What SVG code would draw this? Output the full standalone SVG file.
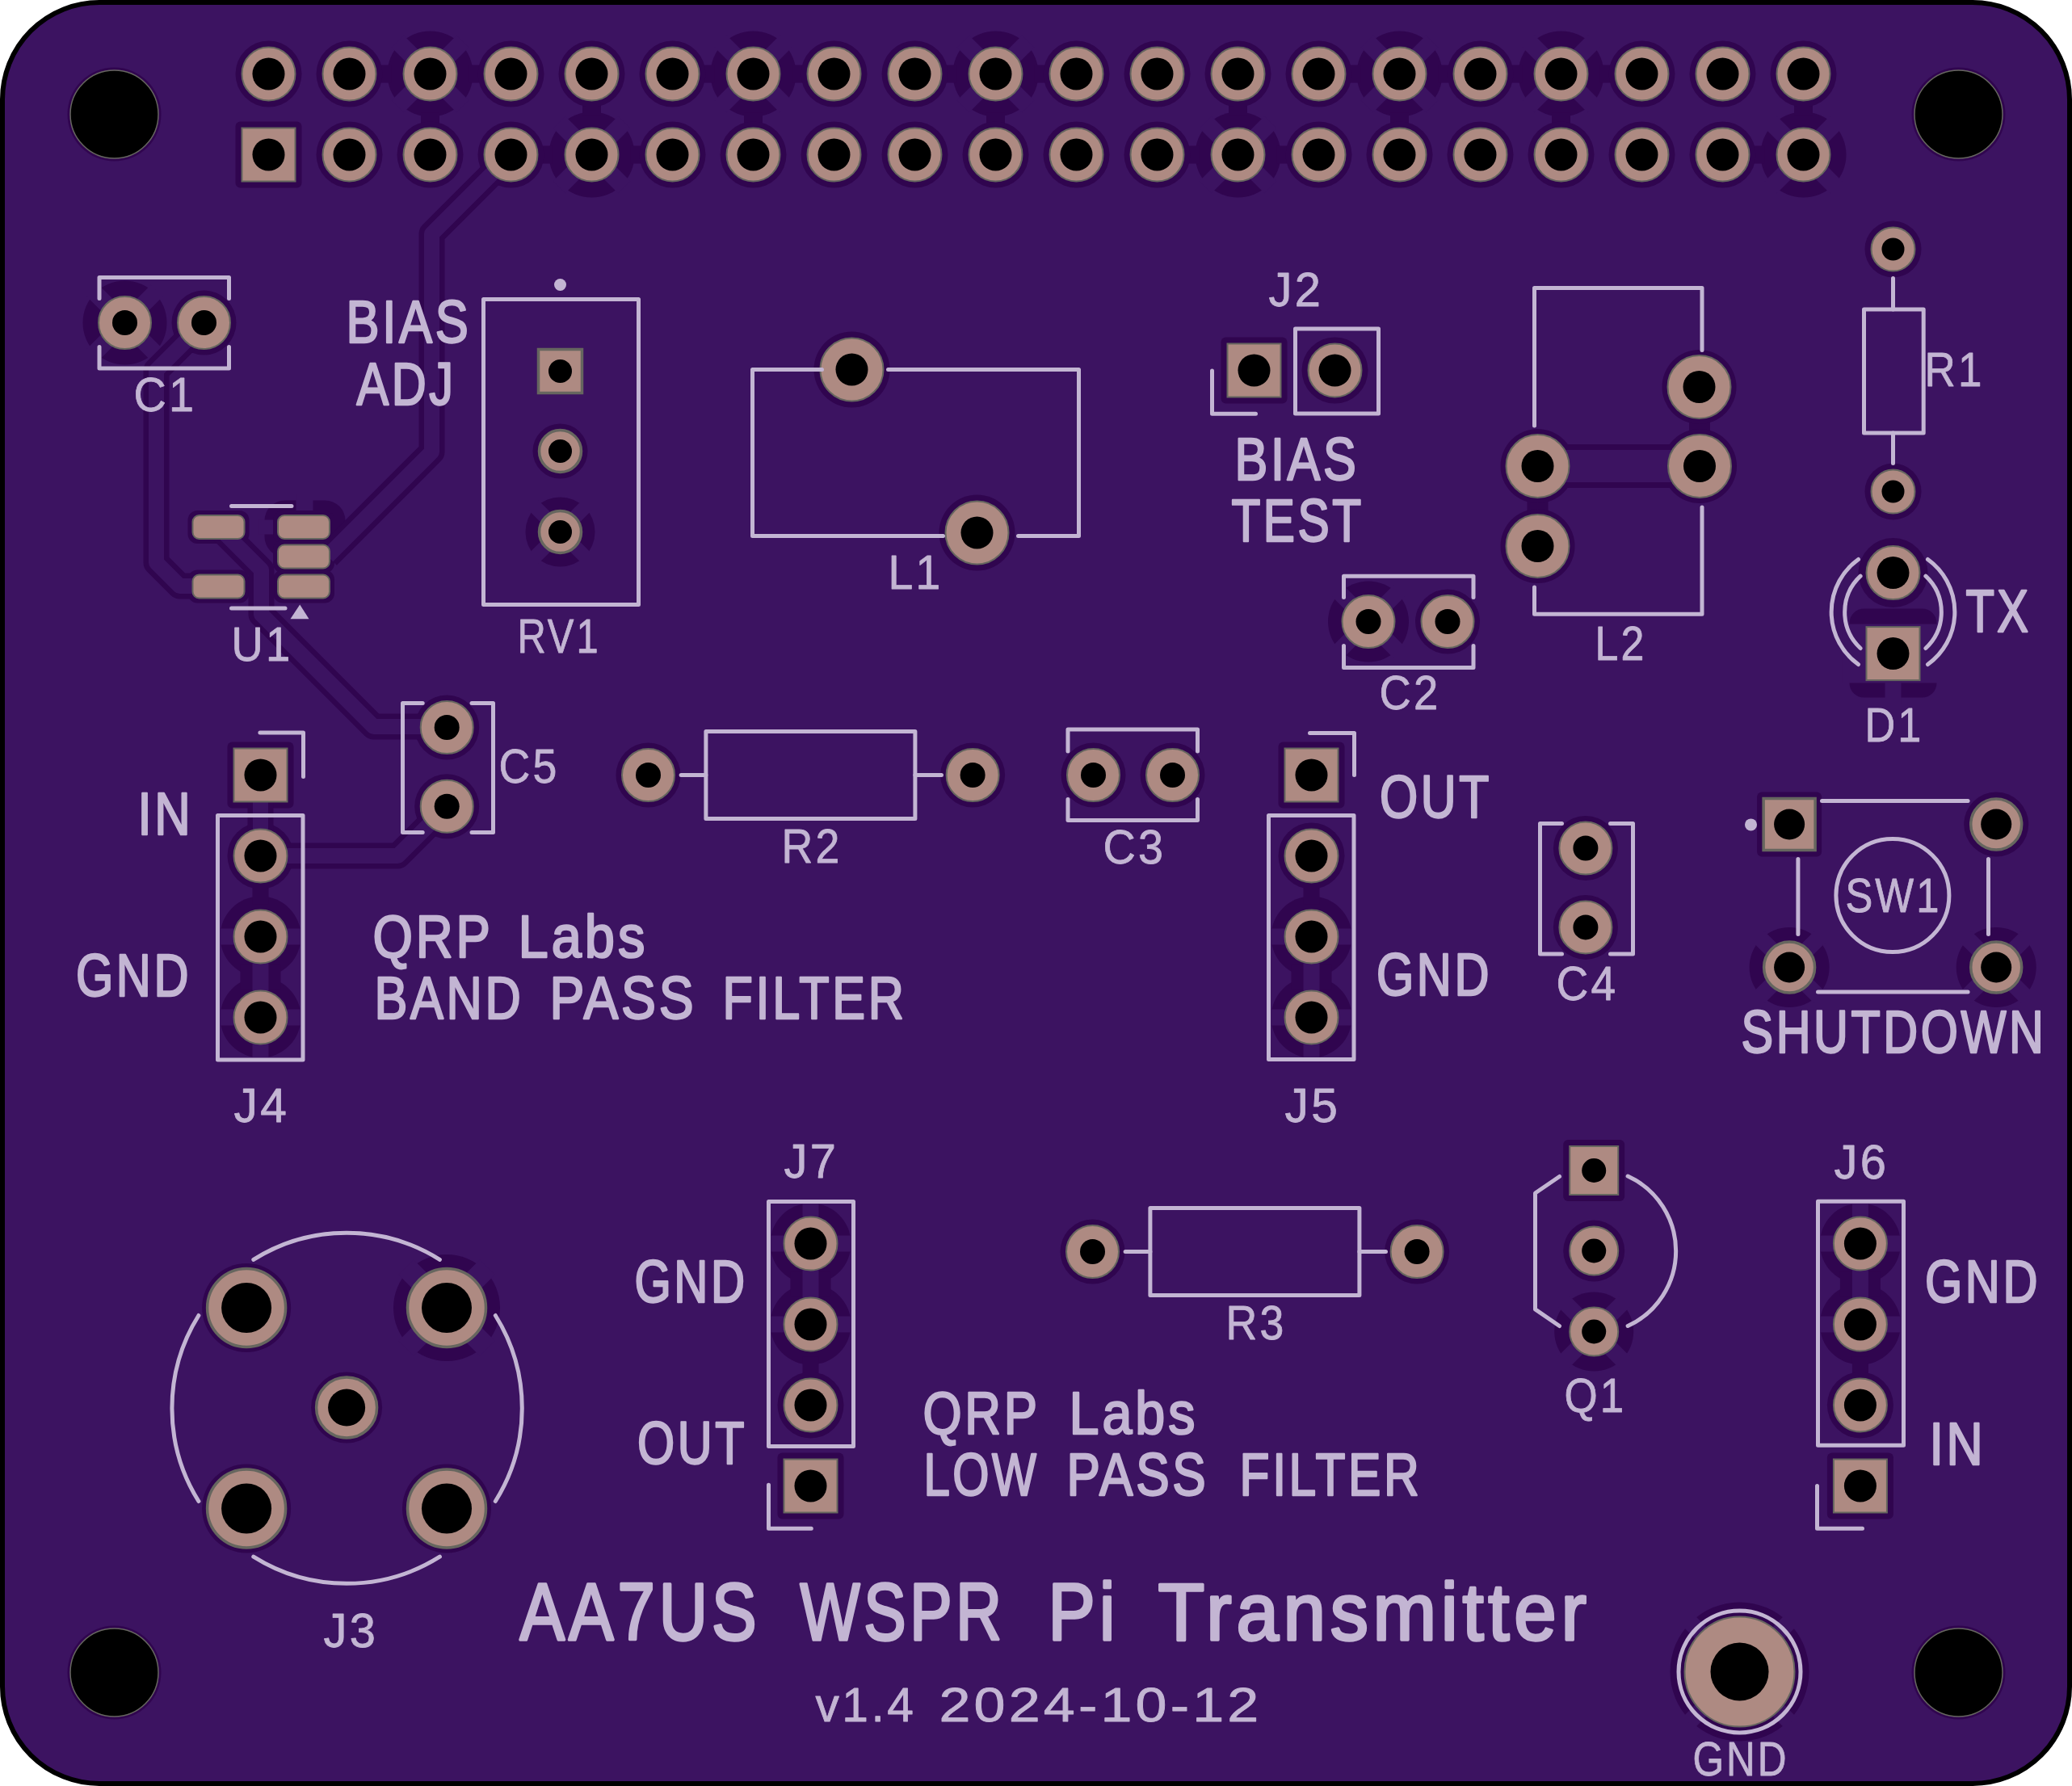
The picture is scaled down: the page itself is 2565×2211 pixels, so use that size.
<svg xmlns="http://www.w3.org/2000/svg" width="2565" height="2211" viewBox="0 0 2565 2211">
<style>
.d{fill:#30054f}
.b{fill:#3c1361}
.spk{stroke:#3c1361;stroke-width:20;fill:none}
.pad{fill:#ae8a82;stroke:#66665f;stroke-width:2}
.pad3{fill:#ae8a82;stroke:#66665f;stroke-width:3.5}
.h{fill:#000}
.s{fill:none;stroke:#c3b5d3;stroke-width:5;stroke-linecap:round;stroke-linejoin:round}
.sf{fill:#c3b5d3}
.cas{fill:none;stroke:#30054f;stroke-linejoin:round}
.trk{fill:none;stroke:#3c1361;stroke-linejoin:round}
text{font-family:"Liberation Sans",Arial,sans-serif;fill:#c3b5d3;stroke:#c3b5d3;stroke-linejoin:round;letter-spacing:.06em}
.t1{font-size:59px;stroke-width:.8}
.t2{font-size:74px;stroke-width:2.4}
.t3{font-size:100px;stroke-width:3.4}
</style>
<defs>
<g id="th"><circle r="50" class="d"/><path d="M-38 -38L38 38M-38 38L38 -38" class="spk"/></g>
<g id="gnd2"><circle r="50" class="d"/><circle cy="100" r="50" class="d"/><rect x="-25" y="35" width="50" height="30" class="d"/><rect x="-10" y="-72" width="20" height="32" class="d"/><rect x="-10" y="0" width="20" height="156" class="b"/><rect x="-54" y="-10" width="108" height="20" class="b"/><rect x="-54" y="90" width="108" height="20" class="b"/></g>
<g id="r34"><circle r="41" class="d"/></g>
<g id="p34"><circle r="33" class="pad"/><circle r="20" class="h"/></g>
<g id="s34"><rect x="-33" y="-33" width="66" height="66" class="pad"/><circle r="20" class="h"/></g>
<g id="p33"><circle r="32.5" class="pad"/><circle r="15.5" class="h"/></g>
<g id="p40"><circle r="39" class="pad"/><circle r="20" class="h"/></g>
<g id="p50"><circle r="48.5" class="pad3"/><circle r="31" class="h"/></g>
<g id="p28"><circle r="27" class="pad"/><circle r="14" class="h"/></g>
<g id="rp"><rect x="-32" y="-14.5" width="64" height="29" rx="8" class="pad"/></g>
<g id="rpr"><rect x="-38" y="-20.5" width="76" height="41" rx="12" class="d"/></g>
<g id="hole"><circle r="58" class="d"/><circle r="54.5" fill="#000" stroke="#66665f" stroke-width="1.5"/></g>
</defs>
<rect width="2565" height="2211" fill="#fff"/>
<rect x="3" y="3" width="2559" height="2205" rx="120" fill="#3c1361" stroke="#000" stroke-width="6"/>
<g transform="translate(.5 1.5)">
<g id="clearance">
<use href="#th" transform="translate(532 90) scale(1.06)"/><use href="#th" transform="translate(932 90) scale(1.06)"/><use href="#th" transform="translate(1232 90) scale(1.06)"/><use href="#th" transform="translate(1732 90) scale(1.06)"/><use href="#th" transform="translate(1932 90) scale(1.06)"/>
<use href="#th" transform="translate(732 190) scale(1.06)"/><use href="#th" transform="translate(1532 190) scale(1.06)"/><use href="#th" transform="translate(2232 190) scale(1.06)"/>
<use href="#th" transform="translate(154 398) scale(1.04)"/><use href="#th" transform="translate(1693.5 768)"/><use href="#th" transform="translate(552.5 1617.5) scale(1.32)"/><use href="#th" transform="translate(693 657) scale(.86)"/><use href="#th" transform="translate(1972.7 1647) scale(.98)"/><use href="#th" transform="translate(2214.6 1196) scale(.99)"/><use href="#th" transform="translate(2470.7 1196) scale(.99)"/>
<circle cx="2153" cy="2068" r="86" class="d"/><path d="M2090 2005L2216 2131M2090 2131L2216 2005" class="spk"/>
<path class="d" d="M468 79h16v22h-16zM580 79h16v22h-16zM868 79h16v22h-16zM980 79h16v22h-16zM1168 79h16v22h-16zM1280 79h16v22h-16zM1668 79h16v22h-16zM1780 79h16v22h-16zM1868 79h16v22h-16zM1980 79h16v22h-16zM668 179h16v22h-16zM780 179h16v22h-16zM1468 179h16v22h-16zM1580 179h16v22h-16zM2168 179h16v22h-16zM520.5 138h23v16h-23zM920.5 138h23v16h-23zM1220.5 138h23v16h-23zM1720.5 138h23v16h-23zM1920.5 138h23v16h-23zM720.5 126h23v16h-23zM1520.5 126h23v16h-23zM2220.5 126h23v16h-23z"/>
<use href="#gnd2" x="322" y="1158"/><use href="#gnd2" x="1623" y="1158"/><use href="#gnd2" transform="translate(1003 1638) scale(1 -1)"/><use href="#gnd2" transform="translate(2302.4 1638) scale(1 -1)"/>
<rect x="2289" y="752" width="108" height="110" rx="18" class="d"/><rect x="2280" y="771" width="126" height="73" class="b"/><rect x="2333" y="840" width="20" height="30" class="b"/>
<rect x="327" y="618" width="100" height="70" rx="25" class="d"/><rect x="366" y="610" width="21" height="30" class="b"/><rect x="320" y="642" width="24" height="18" class="b"/>
<path class="d" d="M2090.5 515h26v24h-26zM1890 613h26v24h-26z"/>
<rect x="291" y="149" width="82" height="82" rx="6" class="d"/>
<g id="row0"><use href="#r34" x="332" y="90"/><use href="#r34" x="432" y="90"/><use href="#r34" x="632" y="90"/><use href="#r34" x="732" y="90"/><use href="#r34" x="832" y="90"/><use href="#r34" x="1032" y="90"/><use href="#r34" x="1132" y="90"/><use href="#r34" x="1332" y="90"/><use href="#r34" x="1432" y="90"/><use href="#r34" x="1532" y="90"/><use href="#r34" x="1632" y="90"/><use href="#r34" x="1832" y="90"/><use href="#r34" x="2032" y="90"/><use href="#r34" x="2132" y="90"/><use href="#r34" x="2232" y="90"/></g>
<use href="#r34" x="432" y="190"/><use href="#r34" x="532" y="190"/><use href="#r34" x="632" y="190"/><use href="#r34" x="832" y="190"/><use href="#r34" x="932" y="190"/><use href="#r34" x="1032" y="190"/><use href="#r34" x="1132" y="190"/><use href="#r34" x="1232" y="190"/><use href="#r34" x="1332" y="190"/><use href="#r34" x="1432" y="190"/><use href="#r34" x="1632" y="190"/><use href="#r34" x="1732" y="190"/><use href="#r34" x="1832" y="190"/><use href="#r34" x="1932" y="190"/><use href="#r34" x="2032" y="190"/><use href="#r34" x="2132" y="190"/>
<circle cx="252" cy="398" r="40" class="d"/>
<rect x="665" y="430" width="56" height="56" rx="6" class="d"/><circle cx="693" cy="557" r="34" class="d"/>
<circle cx="1054" cy="456" r="47" class="d"/><circle cx="1209" cy="658" r="47" class="d"/>
<rect x="1511" y="416" width="82" height="82" rx="6" class="d"/><circle cx="1652" cy="457" r="41" class="d"/>
<circle cx="2103" cy="477.5" r="46" class="d"/><circle cx="2103.5" cy="575.5" r="46" class="d"/><circle cx="1903" cy="575.5" r="46" class="d"/><circle cx="1903" cy="674.5" r="46" class="d"/>
<circle cx="2343" cy="307" r="35" class="d"/><circle cx="2343" cy="607" r="35" class="d"/><circle cx="2343" cy="707.6" r="43" class="d"/>
<circle cx="1791.5" cy="768" r="40" class="d"/>
<rect x="281" y="917" width="82" height="82" rx="6" class="d"/><circle cx="322" cy="1058" r="41" class="d"/>
<rect x="1582" y="917" width="82" height="82" rx="6" class="d"/><circle cx="1623" cy="1058" r="41" class="d"/>
<circle cx="552.7" cy="899" r="40" class="d"/><circle cx="552.7" cy="996.7" r="40" class="d"/>
<circle cx="802" cy="958" r="40" class="d"/><circle cx="1203.6" cy="958" r="40" class="d"/><circle cx="1353" cy="958" r="40" class="d"/><circle cx="1451" cy="958" r="40" class="d"/>
<circle cx="1962.4" cy="1048.5" r="40" class="d"/><circle cx="1962.4" cy="1146.4" r="40" class="d"/>
<rect x="2174.6" y="979" width="80" height="80" rx="6" class="d"/><circle cx="2470.7" cy="1019" r="40" class="d"/>
<rect x="1934.7" y="1409.5" width="76" height="76" rx="6" class="d"/><circle cx="1972.7" cy="1547" r="38" class="d"/>
<circle cx="1352" cy="1548" r="40" class="d"/><circle cx="1753.6" cy="1548" r="40" class="d"/>
<circle cx="1003" cy="1738" r="41" class="d"/><rect x="962" y="1797" width="82" height="82" rx="6" class="d"/>
<circle cx="2302.4" cy="1738" r="41" class="d"/><rect x="2261.4" y="1797" width="82" height="82" rx="6" class="d"/>
<circle cx="304.6" cy="1617.5" r="55" class="d"/><circle cx="304.6" cy="1866" r="55" class="d"/><circle cx="552.5" cy="1866" r="55" class="d"/><circle cx="428.6" cy="1741" r="44" class="d"/>
<use href="#rpr" x="270" y="651"/><use href="#rpr" x="270" y="724.5"/><use href="#rpr" x="375.5" y="651"/><use href="#rpr" x="375.5" y="687.5"/><use href="#rpr" x="375.5" y="724.5"/>
</g>

<g id="connectors">
<g class="cas" stroke-width="32">
<path d="M632 190L534 288V558L405 687"/><path d="M252 398L193 457V695L222 724H270"/><path d="M270 651L323 704V759L462 898H553"/><path d="M553 997L492 1058H322"/><path d="M322 958V1058"/>
</g>
<path class="cas" stroke-width="54" d="M1903 575.5H2104"/>
<g class="trk" stroke-width="19">
<path d="M632 190L534 288V558L405 687"/><path d="M252 398L193 457V695L222 724H270"/><path d="M270 651L323 704V759L462 898H553"/><path d="M553 997L492 1058H322"/><path d="M322 958V1058"/>
</g>
<path class="trk" stroke-width="40" d="M1903 575.5H2104"/>
</g>

<g id="H1"><use href="#hole" x="141" y="140"/></g>
<g id="H2"><use href="#hole" x="2424" y="140"/></g>
<g id="H3"><use href="#hole" x="141" y="2069"/></g>
<g id="H4"><use href="#hole" x="2424" y="2069"/></g>

<g id="J1">
<use href="#p34" x="332" y="90"/><use href="#p34" x="432" y="90"/><use href="#p34" x="532" y="90"/><use href="#p34" x="632" y="90"/><use href="#p34" x="732" y="90"/><use href="#p34" x="832" y="90"/><use href="#p34" x="932" y="90"/><use href="#p34" x="1032" y="90"/><use href="#p34" x="1132" y="90"/><use href="#p34" x="1232" y="90"/><use href="#p34" x="1332" y="90"/><use href="#p34" x="1432" y="90"/><use href="#p34" x="1532" y="90"/><use href="#p34" x="1632" y="90"/><use href="#p34" x="1732" y="90"/><use href="#p34" x="1832" y="90"/><use href="#p34" x="1932" y="90"/><use href="#p34" x="2032" y="90"/><use href="#p34" x="2132" y="90"/><use href="#p34" x="2232" y="90"/>
<use href="#s34" x="332" y="190"/><use href="#p34" x="432" y="190"/><use href="#p34" x="532" y="190"/><use href="#p34" x="632" y="190"/><use href="#p34" x="732" y="190"/><use href="#p34" x="832" y="190"/><use href="#p34" x="932" y="190"/><use href="#p34" x="1032" y="190"/><use href="#p34" x="1132" y="190"/><use href="#p34" x="1232" y="190"/><use href="#p34" x="1332" y="190"/><use href="#p34" x="1432" y="190"/><use href="#p34" x="1532" y="190"/><use href="#p34" x="1632" y="190"/><use href="#p34" x="1732" y="190"/><use href="#p34" x="1832" y="190"/><use href="#p34" x="1932" y="190"/><use href="#p34" x="2032" y="190"/><use href="#p34" x="2132" y="190"/><use href="#p34" x="2232" y="190"/>
</g>

<g id="C1"><use href="#p33" x="154" y="398"/><use href="#p33" x="252" y="398"/><path class="s" d="M122.5 368V342H283V368M122.5 428V454.5H283V428"/><text class="t1" x="165" y="507.5" textLength="78" lengthAdjust="spacingAndGlyphs">C1</text></g>

<g id="RV1"><rect x="666" y="431" width="54" height="54" class="pad3"/><circle cx="693" cy="458" r="14.5" class="h"/><circle cx="693" cy="557" r="26" class="pad3"/><circle cx="693" cy="557" r="14.5" class="h"/><circle cx="693" cy="657" r="26" class="pad3"/><circle cx="693" cy="657" r="14.5" class="h"/><rect x="598" y="369" width="192" height="378" class="s"/><circle cx="693" cy="351" r="7.5" class="sf"/><text class="t1" x="640" y="806.5" textLength="103" lengthAdjust="spacingAndGlyphs">RV1</text></g>

<g id="U1"><use href="#rp" x="270" y="651"/><use href="#rp" x="270" y="724.5"/><use href="#rp" x="375.5" y="651"/><use href="#rp" x="375.5" y="687.5"/><use href="#rp" x="375.5" y="724.5"/><path class="s" d="M286 625H360.5M286 751.5H352.5"/><path class="sf" d="M370.7 747L382 764.7H359z"/><text class="t1" x="286" y="816.5" textLength="76" lengthAdjust="spacingAndGlyphs">U1</text></g>

<g id="L1"><use href="#p40" x="1054" y="456"/><use href="#p40" x="1209" y="658"/><path class="s" d="M1017 456H931V662H1167M1099 456H1335V662H1260"/><text class="t1" x="1099" y="727.5" textLength="68" lengthAdjust="spacingAndGlyphs">L1</text></g>

<g id="J2"><use href="#s34" x="1552" y="457"/><use href="#p34" x="1652" y="457"/><rect x="1603" y="405.6" width="103" height="105" class="s"/><path class="s" d="M1500 457.6V510.7H1554"/><text class="t1" x="1570" y="377" textLength="68" lengthAdjust="spacingAndGlyphs">J2</text></g>

<g id="L2"><use href="#p40" x="2103" y="477.5"/><use href="#p40" x="2103.5" y="575.5"/><use href="#p40" x="1903" y="575.5"/><use href="#p40" x="1903" y="674.5"/><path class="s" d="M1899 525.5V355H2106.5V432M2106.5 626.5V758.7H1899V725.5"/><text class="t1" x="1974" y="815.5" textLength="64" lengthAdjust="spacingAndGlyphs">L2</text></g>

<g id="R1"><use href="#p28" x="2343" y="307"/><use href="#p28" x="2343" y="607"/><rect x="2307" y="381.6" width="73.7" height="153" class="s"/><path class="s" d="M2343 343V381.6M2343 534.6V572"/><text class="t1" x="2382" y="476.5" textLength="74" lengthAdjust="spacingAndGlyphs">R1</text></g>

<g id="D1"><use href="#p34" x="2343" y="707.6"/><rect x="2310" y="774.6" width="66" height="66" class="pad"/><circle cx="2343" cy="807.6" r="20" class="h"/><path class="s" d="M2300 691A80 80 0 0 0 2300 821M2386 691A80 80 0 0 1 2386 821M2302.6 711.7A61 61 0 0 0 2302.6 801M2383.4 711.7A61 61 0 0 1 2383.4 801"/><text class="t1" x="2308" y="916.5" textLength="73" lengthAdjust="spacingAndGlyphs">D1</text></g>

<g id="C2"><use href="#p33" x="1693.5" y="768"/><use href="#p33" x="1791.5" y="768"/><path class="s" d="M1663 738V711.7H1823.5V738M1663 798V825H1823.5V798"/><text class="t1" x="1707" y="876.5" textLength="76" lengthAdjust="spacingAndGlyphs">C2</text></g>

<g id="J4"><use href="#s34" x="322" y="958"/><use href="#p34" x="322" y="1058"/><use href="#p34" x="322" y="1158"/><use href="#p34" x="322" y="1258"/><rect x="269" y="1008" width="105.5" height="302.5" class="s"/><path class="s" d="M321.4 905.4H375V960"/><text class="t1" x="289" y="1387.5" textLength="69" lengthAdjust="spacingAndGlyphs">J4</text></g>

<g id="C5"><use href="#p33" x="552.7" y="899"/><use href="#p33" x="552.7" y="996.7"/><path class="s" d="M522.7 869H498V1029H522.7M583.5 869H610V1029H583.5"/><text class="t1" x="617" y="967.5" textLength="75" lengthAdjust="spacingAndGlyphs">C5</text></g>

<g id="R2"><use href="#p33" x="802" y="958"/><use href="#p33" x="1203.6" y="958"/><rect x="873.4" y="904" width="259" height="108" class="s"/><path class="s" d="M842.6 958H873.4M1132.4 958H1165"/><text class="t1" x="967" y="1066.5" textLength="75" lengthAdjust="spacingAndGlyphs">R2</text></g>

<g id="C3"><use href="#p33" x="1353" y="958"/><use href="#p33" x="1451" y="958"/><path class="s" d="M1321.5 928.5V901.5H1482V928.5M1321.5 988V1014H1482V988"/><text class="t1" x="1365" y="1067.5" textLength="78" lengthAdjust="spacingAndGlyphs">C3</text></g>

<g id="J5"><use href="#s34" x="1623" y="958"/><use href="#p34" x="1623" y="1058"/><use href="#p34" x="1623" y="1158"/><use href="#p34" x="1623" y="1258"/><rect x="1570" y="1008" width="105.5" height="302" class="s"/><path class="s" d="M1621 906H1676V958"/><text class="t1" x="1590" y="1387.5" textLength="69" lengthAdjust="spacingAndGlyphs">J5</text></g>

<g id="C4"><use href="#p33" x="1962.4" y="1048.5"/><use href="#p33" x="1962.4" y="1146.4"/><path class="s" d="M1933 1018H1906V1179.6H1933M1993 1018H2021V1179.6H1993"/><text class="t1" x="1926" y="1236.5" textLength="77" lengthAdjust="spacingAndGlyphs">C4</text></g>

<g id="SW1"><rect x="2182.6" y="987" width="64" height="64" class="pad3"/><circle cx="2214.6" cy="1019" r="19" class="h"/><circle cx="2470.7" cy="1019" r="31.5" class="pad3"/><circle cx="2470.7" cy="1019" r="19" class="h"/><circle cx="2214.6" cy="1196" r="31.5" class="pad3"/><circle cx="2214.6" cy="1196" r="19" class="h"/><circle cx="2470.7" cy="1196" r="31.5" class="pad3"/><circle cx="2470.7" cy="1196" r="19" class="h"/><path class="s" d="M2255 990H2435.6M2250 1226.5H2435.6M2225.4 1062V1155M2461 1062V1155"/><circle cx="2342.4" cy="1107" r="70" class="s"/><circle cx="2167" cy="1019.4" r="7.5" class="sf"/><text class="t1" x="2284" y="1127" textLength="119" lengthAdjust="spacingAndGlyphs">SW1</text></g>

<g id="Q1"><rect x="1942.7" y="1417.5" width="60" height="60" class="pad"/><circle cx="1972.7" cy="1447.5" r="15" class="h"/><circle cx="1972.7" cy="1547" r="30" class="pad"/><circle cx="1972.7" cy="1547" r="15" class="h"/><circle cx="1972.7" cy="1647" r="30" class="pad"/><circle cx="1972.7" cy="1647" r="15" class="h"/><path class="s" d="M1930 1455L1900 1475.5V1619.4L1930 1640M2014.6 1454.5A102 102 0 0 1 2014.6 1640"/><text class="t1" x="1936" y="1746.5" textLength="77" lengthAdjust="spacingAndGlyphs">Q1</text></g>

<g id="J6"><use href="#p34" x="2302.4" y="1538"/><use href="#p34" x="2302.4" y="1638"/><use href="#p34" x="2302.4" y="1738"/><use href="#s34" x="2302.4" y="1838"/><rect x="2250" y="1485.7" width="106" height="302" class="s"/><path class="s" d="M2249 1838V1890.7H2305"/><text class="t1" x="2270" y="1457.5" textLength="68" lengthAdjust="spacingAndGlyphs">J6</text></g>

<g id="J7"><use href="#p34" x="1003" y="1538"/><use href="#p34" x="1003" y="1638"/><use href="#p34" x="1003" y="1738"/><use href="#s34" x="1003" y="1838"/><rect x="951" y="1486" width="105" height="303" class="s"/><path class="s" d="M951 1836.7V1890.7H1003.8"/><text class="t1" x="970" y="1456.5" textLength="68" lengthAdjust="spacingAndGlyphs">J7</text></g>

<g id="R3"><use href="#p33" x="1352" y="1548"/><use href="#p33" x="1753.6" y="1548"/><rect x="1423.4" y="1494" width="259" height="108" class="s"/><path class="s" d="M1392.6 1548H1423.4M1682.4 1548H1715"/><text class="t1" x="1517" y="1656.5" textLength="75" lengthAdjust="spacingAndGlyphs">R3</text></g>

<g id="J3"><use href="#p50" x="304.6" y="1617.5"/><use href="#p50" x="552.5" y="1617.5"/><use href="#p50" x="304.6" y="1866"/><use href="#p50" x="552.5" y="1866"/><circle cx="428.6" cy="1741" r="37.5" class="pad3"/><circle cx="428.6" cy="1741" r="23" class="h"/><path class="s" d="M313.3 1557.8A217 217 0 0 1 543.9 1557.8M612.8 1627A217 217 0 0 1 612.8 1857M543.9 1925.7A217 217 0 0 1 313.3 1925.7M245.4 1857A217 217 0 0 1 245.4 1627"/><text class="t1" x="400" y="2037.5" textLength="68" lengthAdjust="spacingAndGlyphs">J3</text></g>

<g id="TP1"><circle cx="2153" cy="2068" r="68" class="pad"/><circle cx="2153" cy="2068" r="36" class="h"/><circle cx="2153" cy="2068" r="75.5" class="s"/><text class="t1" x="2095" y="2196.5" textLength="119" lengthAdjust="spacingAndGlyphs">GND</text></g>

<g id="labels">
<text class="t2" x="428" y="422.5" textLength="155" lengthAdjust="spacingAndGlyphs">BIAS</text>
<text class="t2" x="441" y="499" textLength="123" lengthAdjust="spacingAndGlyphs">ADJ</text>
<text class="t2" x="1528" y="592.5" textLength="154" lengthAdjust="spacingAndGlyphs">BIAS</text>
<text class="t2" x="1524" y="668.5" textLength="164" lengthAdjust="spacingAndGlyphs">TEST</text>
<text class="t2" x="2433" y="780.5" textLength="81" lengthAdjust="spacingAndGlyphs">TX</text>
<text class="t2" x="1707.5" y="1010.5" textLength="139" lengthAdjust="spacingAndGlyphs">OUT</text>
<text class="t2" x="1703.5" y="1230.5" textLength="143" lengthAdjust="spacingAndGlyphs">GND</text>
<text class="t2" x="170" y="1031" textLength="69" lengthAdjust="spacingAndGlyphs">IN</text>
<text class="t2" x="93.5" y="1231" textLength="143" lengthAdjust="spacingAndGlyphs">GND</text>
<text class="t2" x="461" y="1183.5"><tspan x="461" textLength="148" lengthAdjust="spacingAndGlyphs">QRP</tspan> <tspan x="641" textLength="161" lengthAdjust="spacingAndGlyphs">Labs</tspan></text>
<text class="t2" x="463" y="1259"><tspan x="463" textLength="185" lengthAdjust="spacingAndGlyphs">BAND</tspan> <tspan x="680" textLength="182" lengthAdjust="spacingAndGlyphs">PASS</tspan> <tspan x="894" textLength="228" lengthAdjust="spacingAndGlyphs">FILTER</tspan></text>
<text class="t2" x="2155" y="1301" textLength="378" lengthAdjust="spacingAndGlyphs">SHUTDOWN</text>
<text class="t2" x="785" y="1610.5" textLength="140" lengthAdjust="spacingAndGlyphs">GND</text>
<text class="t2" x="788.5" y="1810.5" textLength="136" lengthAdjust="spacingAndGlyphs">OUT</text>
<text class="t2" x="1142" y="1773"><tspan x="1142" textLength="144" lengthAdjust="spacingAndGlyphs">QRP</tspan> <tspan x="1323" textLength="160" lengthAdjust="spacingAndGlyphs">Labs</tspan></text>
<text class="t2" x="1143" y="1849"><tspan x="1143" textLength="143" lengthAdjust="spacingAndGlyphs">LOW</tspan> <tspan x="1320" textLength="176" lengthAdjust="spacingAndGlyphs">PASS</tspan> <tspan x="1534" textLength="226" lengthAdjust="spacingAndGlyphs">FILTER</tspan></text>
<text class="t2" x="2382.5" y="1610.5" textLength="143" lengthAdjust="spacingAndGlyphs">GND</text>
<text class="t2" x="2388" y="1811" textLength="70" lengthAdjust="spacingAndGlyphs">IN</text>
<text class="t3" x="643" y="2028.5"><tspan x="643" textLength="298" lengthAdjust="spacingAndGlyphs">AA7US</tspan> <tspan x="990" textLength="254" lengthAdjust="spacingAndGlyphs">WSPR</tspan> <tspan x="1297" textLength="88" lengthAdjust="spacingAndGlyphs">Pi</tspan> <tspan x="1433" textLength="536" lengthAdjust="spacingAndGlyphs">Transmitter</tspan></text>
<text class="t1" x="1009" y="2129.5"><tspan x="1009" textLength="125" lengthAdjust="spacingAndGlyphs">v1.4</tspan> <tspan x="1162" textLength="400" lengthAdjust="spacingAndGlyphs">2024-10-12</tspan></text>
</g>
</g>
</svg>
